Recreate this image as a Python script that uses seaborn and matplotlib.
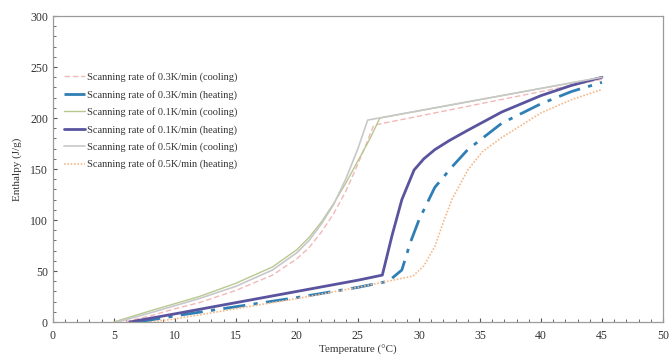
import matplotlib
matplotlib.use("Agg")
import matplotlib.pyplot as plt
import seaborn as sns
import pandas as pd
from matplotlib.ticker import MultipleLocator

# ---- data ----
t_c03 = [45, 26.3, 25.6, 25.0, 24.0, 23.0, 22.0, 21.0, 20.0, 18.0, 15.0, 12.0, 10.0, 8.0, 5.8]
h_c03 = [238, 193, 172, 155, 128, 106, 88, 73, 62, 46, 31, 19, 13, 6, 0]

t_h03 = [7.0, 10, 15, 20, 25, 27.5, 28.6, 29.3, 30.0, 31.3, 32.7, 34.0, 36.8, 40.0, 42.5, 45.0]
h_h03 = [0, 6, 15, 24, 34, 40, 51, 78, 100, 132, 152, 169, 195, 214, 226, 235]

t_c01 = [45, 26.8, 26.0, 25.0, 24.0, 23.0, 22.0, 21.0, 20.0, 18.0, 15.0, 12.0, 10.0, 8.0, 5.0]
h_c01 = [240, 200, 180, 158, 136, 116, 98, 83, 71, 54, 38, 25, 18, 11, 0]

t_h01 = [6.3, 10, 15, 20, 25, 27.0, 27.8, 28.6, 29.6, 30.4, 31.3, 32.5, 34.0, 36.8, 40.0, 42.5, 45.0]
h_h01 = [0, 8, 19, 30, 41, 46, 85, 120, 149, 160, 169, 178, 188, 206, 222, 232, 240]

t_c05 = [45, 25.8, 25.0, 24.0, 23.0, 22.0, 21.0, 20.0, 18.0, 15.0, 12.0, 10.0, 8.0, 5.3]
h_c05 = [240, 198, 170, 140, 115, 96, 80, 68, 51, 35, 23, 16, 9, 0]

t_h05 = [8.0, 10, 15, 20, 25, 29.5, 30.4, 31.3, 32.0, 32.7, 34.0, 35.2, 36.8, 40.0, 42.5, 45.0]
h_h05 = [0, 3, 13, 23, 34, 45, 55, 74, 98, 120, 149, 167, 181, 205, 218, 228]

labels = [
    "Scanning rate of 0.3K/min (cooling)",
    "Scanning rate of 0.3K/min (heating)",
    "Scanning rate of 0.1K/min (cooling)",
    "Scanning rate of 0.1K/min (heating)",
    "Scanning rate of 0.5K/min (cooling)",
    "Scanning rate of 0.5K/min (heating)",
]
series = [(t_c03, h_c03), (t_h03, h_h03), (t_c01, h_c01),
          (t_h01, h_h01), (t_c05, h_c05), (t_h05, h_h05)]

styles = [
    dict(color="#f2b8b8", lw=1.0, ls=(0, (4, 2))),
    dict(color="#2f7fb5", lw=2.0, ls=(0, (8, 3, 1.5, 3))),
    dict(color="#b8c890", lw=1.0, ls="-"),
    dict(color="#5a549e", lw=2.0, ls="-"),
    dict(color="#c8c8c8", lw=1.2, ls="-"),
    dict(color="#f5b98a", lw=1.2, ls=(0, (1, 1))),
]

sns.set_style("white")
plt.rcParams["font.family"] = ["Liberation Serif", "DejaVu Serif"]

fig = plt.figure(figsize=(6.69, 3.57), dpi=100)
ax = fig.add_axes([0.079, 0.098, 0.912, 0.857])

for (t, h), lab, st in zip(series, labels, styles):
    df = pd.DataFrame({"T": t, "H": h})
    sns.lineplot(data=df, x="T", y="H", sort=False, estimator=None, ax=ax,
                 label=lab, color=st["color"], linewidth=st["lw"],
                 linestyle=st["ls"])

ax.set_xlim(0, 50)
ax.set_ylim(0, 300)
ax.xaxis.set_major_locator(MultipleLocator(5))
ax.xaxis.set_minor_locator(MultipleLocator(1))
ax.yaxis.set_major_locator(MultipleLocator(50))
ax.yaxis.set_minor_locator(MultipleLocator(10))
ax.tick_params(which="both", direction="in", color="#555555", labelsize=8.5,
               labelcolor="#333333")
ax.tick_params(which="major", length=3, width=0.8, left=True, bottom=True)
ax.tick_params(which="minor", length=2, width=0.6, left=True, bottom=True)
ax.tick_params(axis="x", which="major", pad=6)
for s in ax.spines.values():
    s.set_color("#9a9a9a")
    s.set_linewidth(0.9)

ax.set_xlabel("Temperature (°C)", fontsize=8, color="#333333", labelpad=2)
ax.set_ylabel("Enthalpy (J/g)", fontsize=8, color="#333333", labelpad=6)

leg = ax.legend(loc="upper left", bbox_to_anchor=(0.012, 0.83), frameon=False,
                fontsize=7.5, handlelength=2.0, handletextpad=0.2,
                labelspacing=0.72, borderaxespad=0)
for txt in leg.get_texts():
    txt.set_color("#333333")

fig.savefig("out.png", dpi=100)
